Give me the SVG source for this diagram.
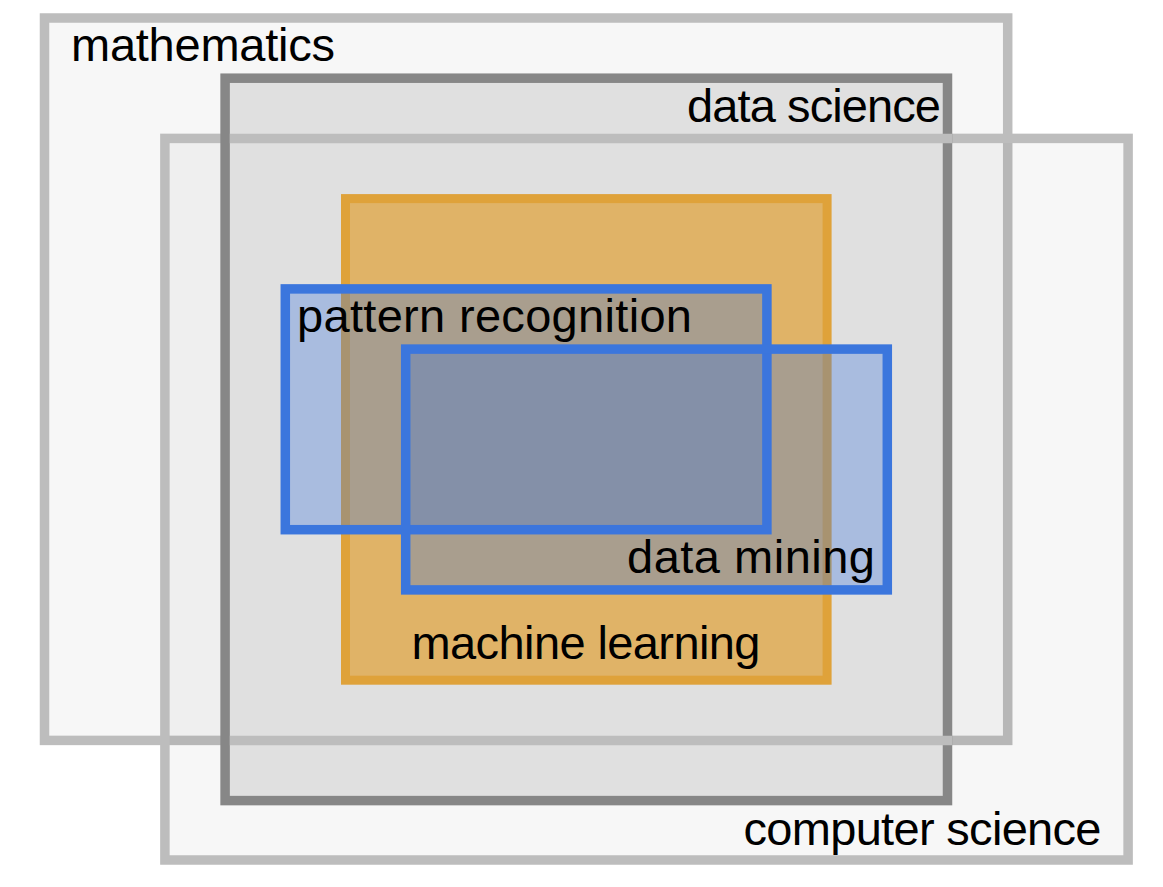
<svg xmlns="http://www.w3.org/2000/svg" width="1163" height="887" viewBox="0 0 1163 887">
  <style>
    .lbl { font-family: "Liberation Sans", Arial, sans-serif; font-size: 47px; fill: #000; }
    .outer { stroke: #bdbdbd; stroke-width: 9.5; stroke-linejoin: miter; }
    .ds { stroke: #878787; stroke-width: 9.5; stroke-linejoin: miter; }
    .ml { fill: #dfa23a; fill-opacity: 0.73; stroke: #dfa23a; stroke-width: 9; }
    .blue { fill: #3b76dd; fill-opacity: 0.333; stroke: #3b76dd; stroke-width: 9.5; }
  </style>
  <rect width="1163" height="887" fill="#ffffff"/>
  <g id="mathematics">
    <rect class="outer" x="44.5" y="18" width="963.2" height="722.4" fill="#f7f7f7"/>
    <text class="lbl" x="71" y="61" textLength="264" lengthAdjust="spacing">mathematics</text>
  </g>
  <g id="computer-science">
    <rect class="outer" x="164.9" y="138.4" width="963.2" height="721.6" fill="#000" fill-opacity="0.03"/>
    <text class="lbl" x="743.5" y="845" textLength="358" lengthAdjust="spacing">computer science</text>
  </g>
  <g id="data-science">
    <rect x="225.1" y="78.2" width="722.4" height="722.4" fill="#e0e0e0"/>
    <rect class="ds" x="225.1" y="78.2" width="722.4" height="722.4" fill="none"/>
    <text class="lbl" x="687" y="121.7" textLength="254" lengthAdjust="spacing">data science</text>
  </g>
  <g id="outer-borders-over-data-science">
    <line class="outer" x1="229.85" y1="138.4" x2="952.25" y2="138.4"/>
    <line class="outer" x1="229.85" y1="740.4" x2="952.25" y2="740.4"/>
  </g>
  <g id="machine-learning">
    <rect class="ml" x="345.5" y="198.6" width="481.6" height="481.6"/>
    <text class="lbl" x="411.5" y="659" textLength="349" lengthAdjust="spacing">machine learning</text>
  </g>
  <g id="pattern-recognition">
    <rect class="blue" x="285.3" y="288.9" width="481.6" height="240.8"/>
    <text class="lbl" x="297" y="331.7" textLength="395" lengthAdjust="spacing">pattern recognition</text>
  </g>
  <g id="data-mining">
    <rect class="blue" x="405.7" y="349.1" width="481.6" height="240.8"/>
    <text class="lbl" x="627" y="572.5" textLength="248" lengthAdjust="spacing">data mining</text>
  </g>
  <g id="connectors"/>
</svg>
